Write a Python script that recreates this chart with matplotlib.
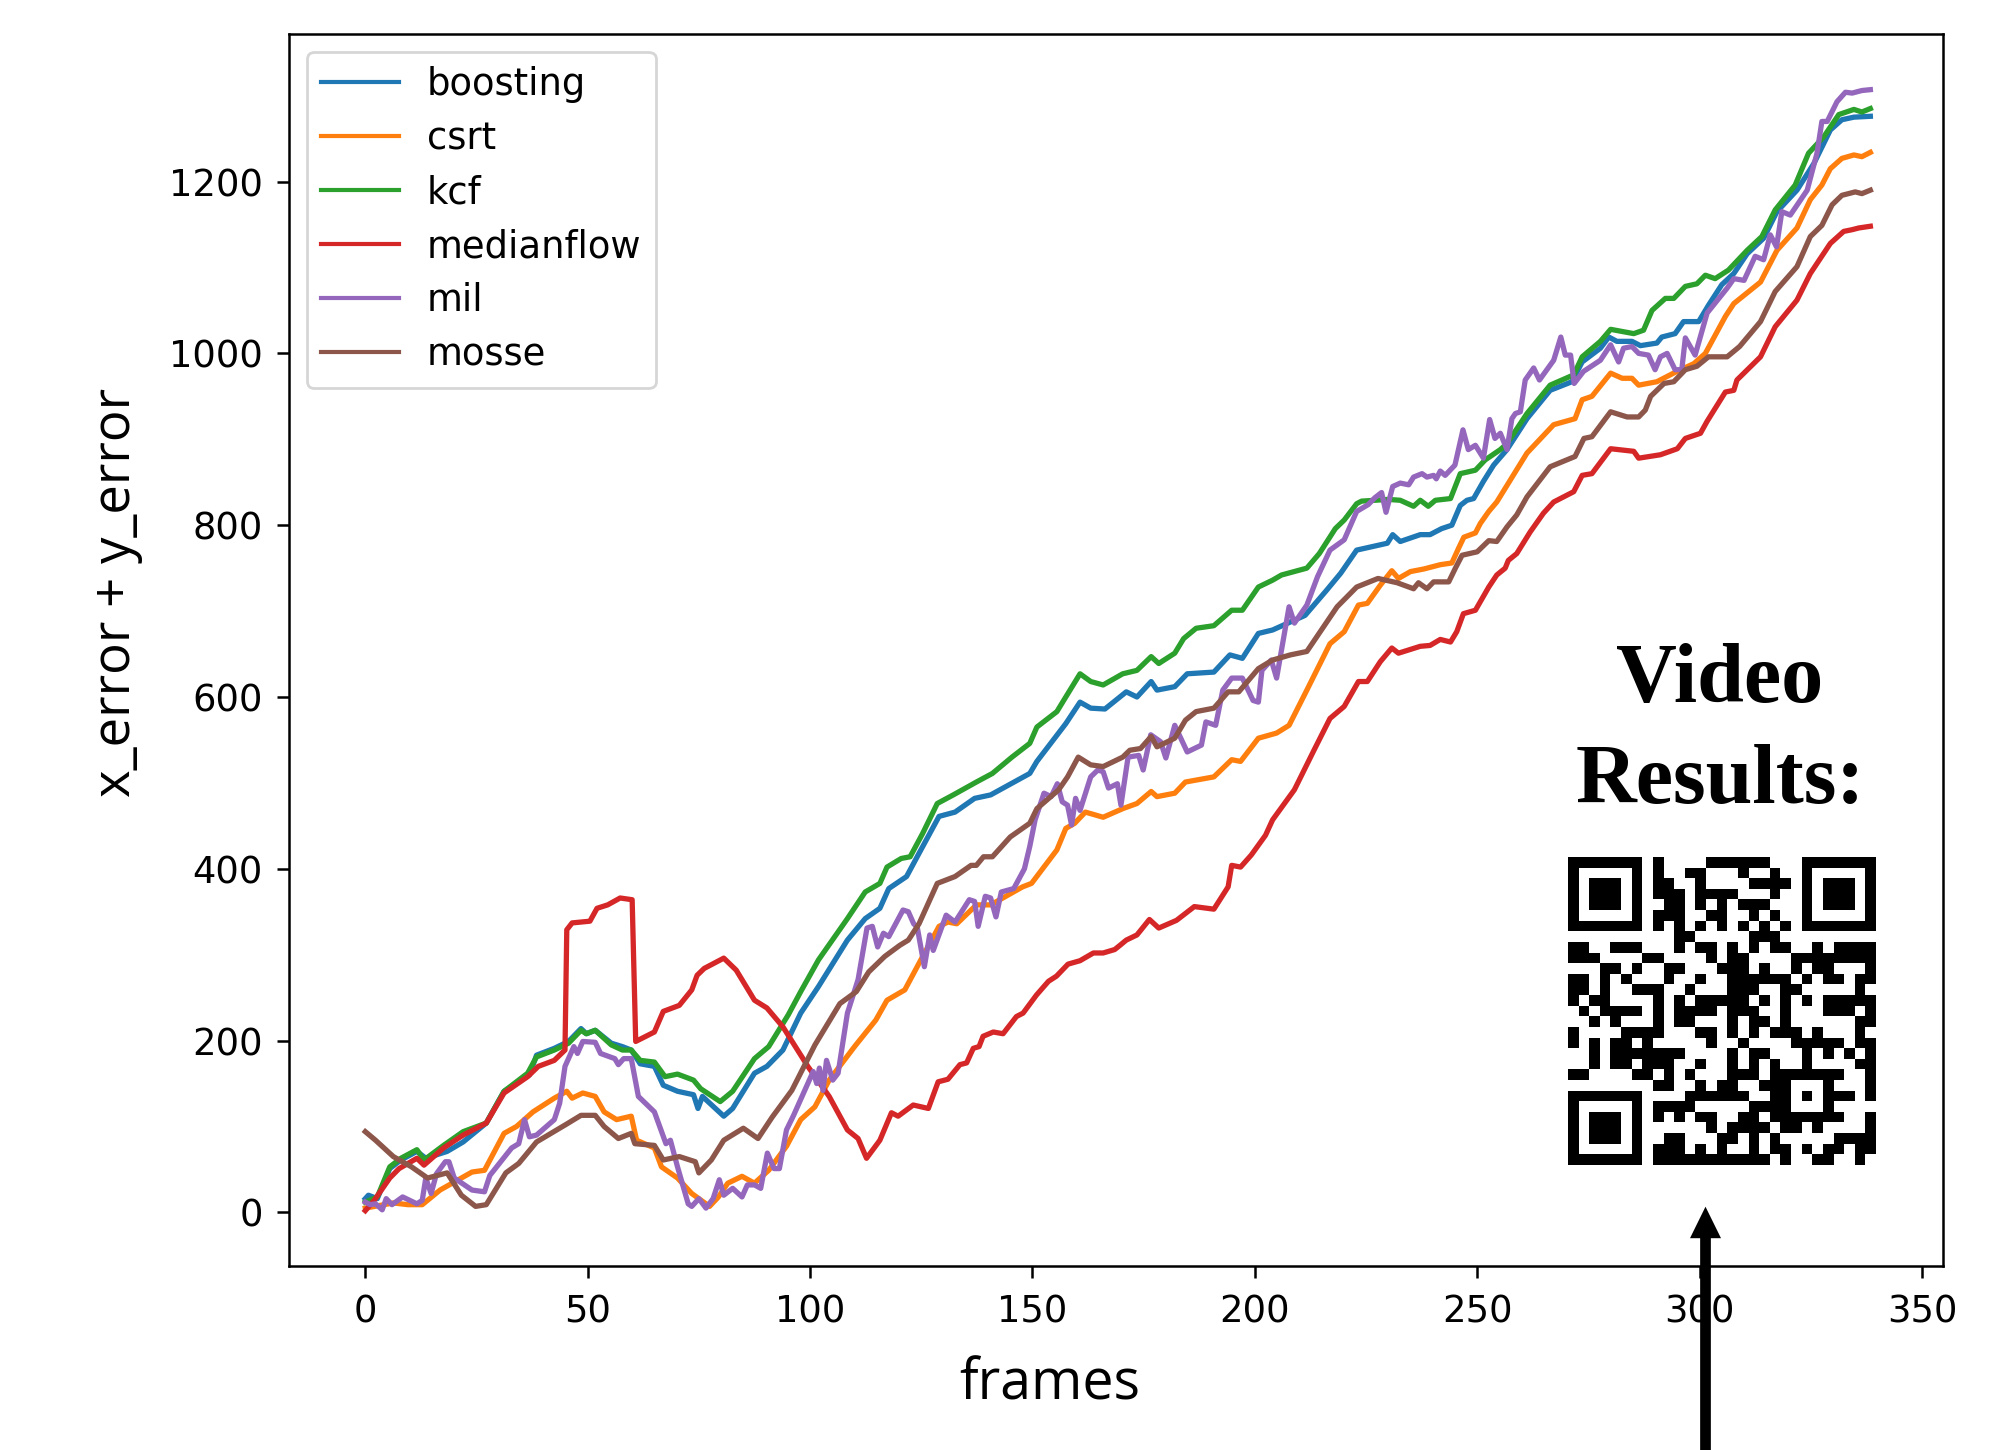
import numpy as np
import matplotlib
matplotlib.use("Agg")
import matplotlib.pyplot as plt
from matplotlib.patches import FancyArrow

W, H, DPI = 1998, 1450, 200

boosting_x = [0, 0.7, 2.7, 5.5, 8, 11.6, 13.6, 18.4, 22, 27.2, 31.2, 36.9, 38.5, 42.5, 45.7, 48.5, 49.7, 51.7, 55.3, 57.8, 59.8, 61.8, 65, 67, 70.2, 73.8, 74.8, 75.8, 80.6, 82.6, 87.5, 90.3, 93.9, 97.9, 101.9, 108.4, 112.4, 115.7, 117.7, 121.7, 124.5, 129, 132.6, 137, 140.6, 149.4, 151, 157.5, 160.7, 163.1, 166.3, 171.1, 173.5, 176.7, 178, 182, 184.8, 190.8, 194.4, 197.2, 200.8, 204, 211.3, 216.1, 219.3, 222.9, 229.8, 231, 232.7, 237.2, 239.4, 242, 244.3, 246.2, 247.7, 249.2, 251.4, 253.7, 256.7, 261.2, 266.4, 271.3, 273.6, 277.7, 279.6, 281.4, 284.8, 286.7, 290.4, 291.5, 294.5, 296.4, 299.8, 302, 305, 307.7, 310.7, 314.4, 317.4, 321.9, 325.7, 329.4, 332, 334.7, 338.4]
boosting_y = [16, 20, 16, 51, 61, 71, 63, 71, 82, 104, 141, 160, 183, 191, 199, 214, 208, 212, 197, 193, 189, 173, 170, 148, 141, 137, 121, 135, 112, 121, 162, 170, 189, 232, 263, 317, 342, 354, 377, 391, 418, 461, 466, 482, 486, 511, 525, 569, 594, 587, 586, 606, 600, 618, 608, 612, 627, 629, 649, 645, 674, 678, 695, 724, 744, 771, 779, 789, 781, 789, 789, 796, 800, 823, 829, 831, 851, 870, 888, 924, 957, 967, 990, 1006, 1019, 1014, 1014, 1009, 1012, 1019, 1023, 1037, 1037, 1056, 1080, 1093, 1116, 1134, 1165, 1190, 1221, 1260, 1272, 1275, 1276]

csrt_x = [0, 6.3, 9.6, 12.8, 16.8, 21.6, 24, 26.8, 31.2, 34, 37.7, 42.5, 45.3, 46.5, 48.9, 51.7, 53.7, 56.5, 59.8, 61, 65, 66.6, 70.2, 73.4, 77.4, 79.4, 81.5, 84.7, 87.5, 90.7, 94.7, 97.9, 101.1, 104.3, 110, 114.8, 117.3, 121.3, 124.5, 129, 131, 133, 137.4, 140.6, 147.8, 149.8, 155.5, 157.5, 159.5, 161.9, 165.9, 170.3, 173.5, 176.7, 178, 182, 184.4, 190.8, 194.8, 196.8, 200.8, 204.9, 207.7, 211.7, 216.9, 220.1, 223.3, 225.3, 228.2, 230.8, 232.3, 235, 238, 241.7, 244.3, 245.8, 247, 249.6, 250.7, 252.6, 254.4, 261.2, 267.2, 272, 273.6, 275.8, 280, 282.6, 284.8, 286.3, 290.4, 294.9, 298.7, 301.3, 305.8, 307.7, 313.7, 317.4, 321.9, 324.9, 327.5, 329.4, 332, 334.7, 336.5, 338.4]
csrt_y = [5, 11, 9, 9, 26, 40, 47, 49, 92, 100, 117, 133, 141, 133, 139, 135, 117, 108, 112, 84, 75, 53, 40, 22, 7, 18, 34, 42, 34, 49, 77, 108, 123, 154, 193, 224, 247, 259, 290, 333, 338, 336, 358, 358, 379, 383, 422, 447, 453, 466, 460, 470, 476, 490, 484, 488, 501, 507, 527, 525, 552, 558, 567, 608, 662, 676, 707, 709, 730, 747, 738, 746, 749, 754, 756, 773, 786, 791, 802, 816, 827, 884, 917, 924, 946, 950, 977, 971, 971, 963, 967, 979, 988, 1000, 1043, 1058, 1083, 1120, 1146, 1179, 1196, 1215, 1227, 1231, 1229, 1234]

kcf_x = [0, 2.7, 5.5, 8, 11.6, 13.2, 17.6, 22, 27.2, 31.2, 36.5, 38.5, 42.5, 45.7, 48.5, 49.7, 51.7, 55.3, 57.8, 59.8, 61.8, 65, 67.4, 70.2, 73.8, 75.4, 79.8, 82.6, 87.5, 90.7, 95.1, 97.9, 101.9, 108.4, 112.4, 115.7, 117.3, 120.5, 122.5, 125.3, 128.6, 132.2, 137.4, 141, 145.4, 149.4, 151, 155.5, 157.5, 160.7, 163.1, 165.9, 170.3, 173.5, 176.7, 178.4, 182, 184, 186.8, 190.8, 194.8, 197.2, 200.8, 204, 206, 211.7, 214.5, 218.1, 220.1, 222.9, 224, 230, 232.7, 235.7, 237.2, 239, 240.6, 244, 246.2, 249.6, 251.8, 255.2, 256.7, 261.2, 266.4, 271.7, 273.6, 277.7, 280, 285.2, 287.4, 289.3, 292.3, 294.2, 296.8, 299.4, 301.3, 303.5, 306.5, 310.7, 314, 317, 321.5, 324.5, 327.9, 331.3, 334.7, 336.5, 338.4]
kcf_y = [12, 18, 53, 63, 73, 61, 78, 94, 104, 141, 162, 181, 189, 197, 212, 208, 212, 195, 189, 189, 177, 175, 158, 161, 154, 144, 129, 141, 179, 193, 230, 257, 294, 342, 373, 383, 402, 412, 414, 441, 476, 486, 501, 511, 530, 546, 565, 583, 600, 627, 618, 614, 627, 631, 647, 639, 651, 668, 680, 683, 701, 701, 728, 736, 742, 750, 767, 796, 806, 825, 828, 830, 829, 822, 829, 822, 829, 831, 860, 864, 876, 888, 895, 930, 963, 975, 996, 1014, 1028, 1023, 1027, 1050, 1064, 1064, 1078, 1081, 1091, 1087, 1097, 1120, 1136, 1167, 1196, 1233, 1252, 1278, 1284, 1281, 1285]

medianflow_x = [0, 2, 5.5, 7.6, 11.6, 13.2, 17.6, 22, 27.2, 31.2, 36.5, 38.9, 42.5, 44.9, 45.3, 46.5, 50.5, 52.1, 54.5, 57.3, 60, 60.8, 65, 67, 70.6, 73.4, 74.6, 76.2, 80.6, 83.4, 87.5, 90.3, 93.9, 99.5, 104.3, 108.4, 110.8, 112.7, 115.7, 118.3, 119.8, 123.2, 126.6, 128.8, 131, 133.7, 135.2, 136.7, 138, 138.9, 141.2, 143.4, 146.4, 147.9, 150.9, 153.6, 155.4, 158, 160.7, 163.7, 165.9, 168.5, 169.7, 171.1, 173.5, 176.3, 178.4, 182.4, 186.4, 190.8, 194, 194.8, 196.8, 199.2, 202.4, 204, 208.9, 213.3, 216.9, 220.1, 223.3, 225.3, 228.2, 230.8, 232.3, 237.2, 239.4, 241.7, 244, 245.4, 246.9, 249.6, 252.6, 254.4, 256.3, 257, 258.9, 261.9, 264.9, 267.2, 271.7, 273.6, 275.8, 280, 285.2, 286.3, 291.2, 295, 296.8, 300.2, 301.7, 305.8, 307.7, 308.4, 313.7, 317, 321.9, 324.9, 329.4, 332.4, 334.3, 335.8, 338.4]
medianflow_y = [2, 14, 40, 51, 63, 55, 75, 90, 104, 139, 158, 170, 177, 189, 329, 337, 339, 354, 358, 366, 364, 199, 210, 234, 241, 259, 276, 284, 296, 282, 247, 238, 216, 170, 135, 96, 86, 63, 84, 116, 112, 125, 121, 152, 155, 172, 174, 191, 193, 205, 210, 208, 228, 232, 253, 269, 275, 289, 293, 302, 302, 306, 311, 317, 323, 341, 331, 340, 356, 353, 379, 404, 402, 416, 439, 457, 492, 538, 575, 589, 618, 618, 641, 657, 651, 659, 660, 667, 664, 676, 697, 701, 728, 742, 750, 759, 767, 792, 814, 827, 839, 858, 860, 889, 886, 878, 882, 889, 901, 907, 921, 955, 957, 969, 996, 1031, 1062, 1093, 1128, 1142, 1144, 1146, 1148]

mil_x = [0, 1.1, 2.3, 3.8, 4.7, 6, 8.4, 11.6, 12.8, 13.6, 14.8, 16, 18, 18.8, 20, 24, 26.8, 28, 32.9, 34.5, 35.8, 36.9, 38.5, 42.5, 43.7, 44.9, 46.9, 47.7, 48.9, 51.7, 52.9, 56.1, 56.9, 58.1, 59.8, 61.4, 65, 67.6, 68.6, 70.2, 72.6, 73.4, 75, 76.6, 78.2, 79.6, 80.6, 82.6, 84.7, 85.9, 87.5, 88.9, 90.4, 91.9, 93.1, 94.7, 96.3, 99.5, 100.7, 101.5, 102.1, 102.9, 103.7, 105.1, 106.3, 108.4, 110.8, 112.8, 114, 115.2, 116.5, 117.7, 120.9, 122.1, 123.3, 124.1, 125.7, 126.9, 127.7, 130.6, 132.6, 135.8, 137, 137.8, 139.4, 140.6, 141.8, 143, 145.8, 148.2, 149.4, 150.6, 152.6, 154.2, 155.6, 156.7, 157.9, 158.8, 159.7, 160.7, 163.1, 164.7, 165.9, 167.1, 169.1, 169.9, 171.5, 173.9, 174.9, 176.6, 178.8, 180, 182, 184.8, 188, 189, 191.2, 192.8, 194.8, 197.2, 199.6, 200.8, 201.6, 203.7, 204.9, 207.7, 208.9, 211.7, 214.1, 216.9, 220.1, 222.9, 225.5, 227, 228.5, 229.5, 231, 232.7, 234.6, 235.7, 237.6, 238.7, 240.2, 240.8, 241.7, 242.8, 245, 246.8, 248, 249.6, 251.4, 252.8, 254, 255.2, 256.7, 257.8, 258.6, 259.7, 260.8, 262.7, 264, 267.2, 268.8, 269.8, 271, 271.8, 273.9, 277.7, 280, 281.8, 282.9, 284.8, 286.3, 288.5, 290, 291.2, 292.7, 294.5, 296, 296.8, 299, 301.7, 306.2, 307.7, 310, 312.5, 314.4, 315.9, 317.3, 318.5, 320.4, 324.2, 326.4, 327.5, 328.7, 330.9, 332.8, 334.3, 336.5, 338.4]
mil_y = [12, 9, 10, 3, 16, 9, 18, 10, 14, 40, 22, 45, 59, 59, 40, 26, 24, 43, 75, 80, 108, 88, 90, 108, 127, 170, 193, 185, 199, 198, 185, 179, 172, 179, 179, 135, 117, 80, 84, 53, 10, 7, 16, 5, 16, 38, 20, 28, 18, 32, 32, 28, 69, 51, 51, 96, 113, 150, 164, 150, 168, 142, 177, 154, 162, 232, 271, 331, 333, 309, 325, 321, 352, 350, 336, 332, 286, 323, 305, 346, 338, 364, 362, 333, 368, 366, 344, 373, 377, 400, 426, 457, 488, 484, 499, 478, 474, 451, 482, 468, 507, 515, 513, 494, 499, 474, 530, 532, 515, 556, 548, 529, 567, 536, 544, 571, 567, 608, 622, 622, 596, 594, 631, 643, 622, 705, 686, 707, 740, 771, 783, 816, 824, 832, 838, 815, 845, 849, 847, 856, 860, 856, 858, 854, 863, 858, 870, 911, 888, 893, 878, 923, 901, 907, 888, 924, 930, 932, 969, 983, 969, 992, 1019, 998, 998, 965, 979, 992, 1010, 990, 1006, 1008, 1000, 998, 981, 996, 1000, 981, 981, 1018, 998, 1047, 1076, 1087, 1085, 1113, 1109, 1138, 1124, 1165, 1161, 1190, 1233, 1270, 1270, 1293, 1304, 1303, 1306, 1307]

mosse_x = [0, 2.3, 6.3, 10.4, 14, 18.4, 21.6, 24.8, 27.2, 31.6, 34.5, 38.5, 45, 48.5, 51.7, 53.7, 56.9, 59.8, 60.6, 65, 67, 70.6, 74.2, 75, 77.8, 80.6, 85, 88.3, 91.5, 95.9, 101.1, 106.7, 110.4, 113.2, 116.8, 120.2, 122.1, 124.5, 128.6, 132.6, 136.2, 137.4, 139, 141, 145, 149.4, 151, 155.9, 157.9, 160.3, 163.1, 165.9, 170.3, 171.9, 174.3, 176.7, 178, 182, 184.4, 186.8, 190.8, 194, 196.4, 200.8, 204, 208, 211.7, 218.5, 222.9, 227.7, 232, 235.7, 236.8, 238.7, 240.2, 243.6, 245.1, 246.6, 250, 252.6, 254.4, 256.7, 258.9, 261.2, 266.4, 272, 274, 275.8, 280, 283.7, 286.3, 287.8, 289, 292, 294.2, 296.8, 299.4, 302, 306.2, 309, 313.7, 317, 321.9, 324.9, 327.5, 329.8, 332, 335, 336.5, 338.4]
mosse_y = [94, 84, 65, 53, 40, 46, 20, 7, 9, 46, 57, 82, 102, 113, 113, 100, 86, 92, 80, 78, 61, 65, 59, 46, 61, 84, 98, 86, 111, 142, 195, 243, 257, 280, 298, 311, 317, 336, 383, 391, 404, 404, 414, 414, 437, 453, 470, 492, 507, 530, 521, 519, 530, 538, 540, 554, 542, 552, 573, 583, 587, 606, 606, 633, 643, 649, 653, 705, 728, 738, 733, 726, 733, 726, 734, 734, 750, 765, 769, 782, 781, 798, 812, 833, 868, 880, 901, 903, 932, 926, 926, 934, 950, 965, 967, 981, 985, 996, 996, 1008, 1037, 1072, 1101, 1136, 1149, 1173, 1184, 1188, 1186, 1190]

x_ticks = [0, 50, 100, 150, 200, 250, 300, 350]
y_ticks = [0, 200, 400, 600, 800, 1000, 1200]

qr_rows = [
    "#######.#....######...#######",
    "#.....#.#..##...#..#..#.....#",
    "#.###.#.##..#....####.#.###.#",
    "#.###.#.###.####...#..#.###.#",
    "#.###.#..##.#.#.###...#.###.#",
    "#.....#.###..##..#.#..#.....#",
    "#######.#.#.#.#.#.#.#.#######",
    "..........##.....###.........",
    "##..###...#.##.#.#.##..#.####",
    "###....##....#.##....########",
    "...##.#..##...###.#..#.##...#",
    "##.#.#...#..#..######.#.##.##",
    "##.#..###..#...###..##.....#.",
    "#.##....#.#.#####.#.#.#.#####",
    ".#.####.#.####.###..#...###.#",
    "..#.#...#.##...#.##.#......##",
    "#....####...##.#.#.###.#...#.",
    "#.#.##.#.....#..#....#####.##",
    "..#.#######....#.##...#.#.#.#",
    "..#.##.###..#..#.#.#..#....##",
    "##....##.#.#...###.#######..#",
    "........##..#.##..###...#...#",
    "#######....######..##.#.###.#",
    "#.....#.####.....####...#....",
    "#.###.#.#.#.##..##.#######..#",
    "#.###.#......#.####.##.#....#",
    "#.###.#..##...##.#.#.....####",
    "#.....#.###.#.#..#.##.#.##.##",
    "#######.###########.#..##..#.",
]


def px_axes(fig, left, top, right, bottom, **kwargs):
    # axes from pixel edges, measured from the top left of the picture
    return fig.add_axes([left / W, 1 - bottom / H, (right - left) / W, (bottom - top) / H], **kwargs)


fig = plt.figure(figsize=(W / DPI, H / DPI), dpi=DPI, facecolor="white")
ax = px_axes(fig, 288.8, 34, 1943.3, 1266)

ax.plot(boosting_x, boosting_y, color="C0", lw=1.9, label="boosting")
ax.plot(csrt_x, csrt_y, color="C1", lw=1.9, label="csrt")
ax.plot(kcf_x, kcf_y, color="C2", lw=1.9, label="kcf")
ax.plot(medianflow_x, medianflow_y, color="C3", lw=1.9, label="medianflow")
ax.plot(mil_x, mil_y, color="C4", lw=1.9, label="mil")
ax.plot(mosse_x, mosse_y, color="C5", lw=1.9, label="mosse")

ax.set_xlim(-17.2, 354.8)
ax.set_ylim(-62.4, 1371.8)
ax.set_xticks(x_ticks)
ax.set_yticks(y_ticks)
ax.tick_params(labelsize=13.3, length=4.3, width=0.9, pad=5)
ax.tick_params(axis="x", pad=5.6)
for spine in ax.spines.values():
    spine.set_linewidth(0.9)

leg = ax.legend(loc="upper left", fontsize=13.3, bbox_to_anchor=(306.5 / W, 1 - 51.5 / H),
                bbox_transform=fig.transFigure, borderaxespad=0, borderpad=0.4,
                handlelength=2.1, handletextpad=0.75, labelspacing=0.46)
for line in leg.get_lines():
    line.set_linewidth(1.5)

fig.text(1050 / W, 1 - 1385 / H, "frames", fontsize=20, family="Open Sans",
         ha="center", va="center")
fig.text(116 / W, 1 - 592 / H, "x_error + y_error", fontsize=19, family="Open Sans",
         rotation=90, ha="center", va="center")

fig.text(1720 / W, 1 - 681 / H, "Video", fontsize=30.3, family="Liberation Serif",
         weight="bold", ha="center", va="center")
fig.text(1720 / W, 1 - 783 / H, "Results:", fontsize=30.3, family="Liberation Serif",
         weight="bold", ha="center", va="center")

qr = np.array([[c == "#" for c in row] for row in qr_rows], dtype=float)
qr_ax = px_axes(fig, 1567.7, 857.3, 1875.7, 1165)
qr_ax.imshow(qr, cmap="gray_r", vmin=0, vmax=1, interpolation="nearest", aspect="auto")
qr_ax.axis("off")

# arrow up to the QR code, runs over the axes and off the bottom edge
overlay = px_axes(fig, 0, 0, W, H)
overlay.set_xlim(0, W)
overlay.set_ylim(H, 0)
overlay.axis("off")
overlay.add_patch(FancyArrow(1705.5, 1450, 0, 1206.7 - 1450, width=10.7, head_width=31,
                             head_length=31.5, length_includes_head=True, color="black", lw=0))

fig.savefig("out.png", dpi=DPI)
